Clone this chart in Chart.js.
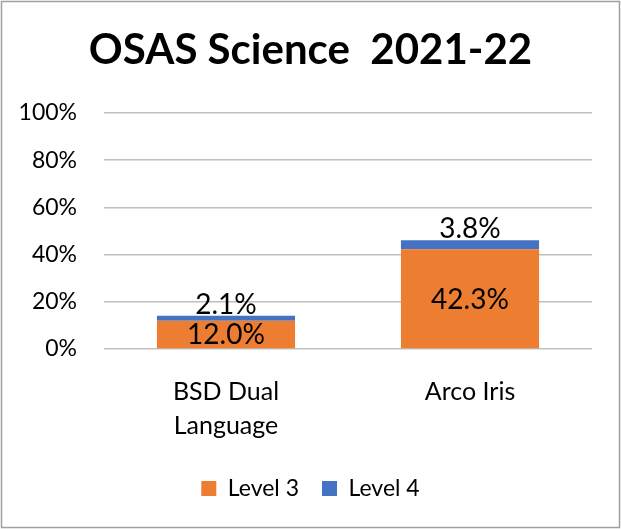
<!DOCTYPE html>
<html>
<head>
<meta charset="utf-8">
<script src="https://cdn.jsdelivr.net/npm/chart.js@4.4.0/dist/chart.umd.min.js"></script>
<style>
  html, body { margin: 0; padding: 0; background: #fff; }
  #wrap { width: 621px; height: 529px; }
</style>
</head>
<body>
<div id="wrap"><canvas id="chart" width="621" height="529"></canvas></div>
<script>
// values (percent of students)
var schools = [["BSD Dual", "Language"], "Arco Iris"];
var level3 = [12.0, 42.3];
var level4 = [2.1, 3.8];
var yTicks = [0, 20, 40, 60, 80, 100];

Chart.defaults.font.family = "Lato";
Chart.defaults.color = "#000";

// white background and grey frame like the original export
var framePlugin = {
  id: "frame",
  beforeDraw: function (chart) {
    var c = chart.ctx;
    c.save();
    c.fillStyle = "#fff";
    c.fillRect(0, 0, chart.width, chart.height);
    c.strokeStyle = "#a0a0a0";
    c.lineWidth = 1.5;
    c.strokeRect(1.5, 1.5, chart.width - 3, chart.height - 3);
    c.restore();
  }
};

// value labels: level 3 inside the bar, level 4 on top of the stack
var valueLabels = {
  id: "valueLabels",
  afterDatasetsDraw: function (chart) {
    var c = chart.ctx;
    c.save();
    c.font = "28px Lato";
    c.fillStyle = "#000";
    c.textAlign = "center";
    chart.data.datasets.forEach(function (ds, i) {
      var meta = chart.getDatasetMeta(i);
      meta.data.forEach(function (bar, j) {
        var txt = ds.data[j].toFixed(1) + "%";
        if (i === 0) {
          c.textBaseline = "middle";
          c.fillText(txt, bar.x, (bar.y + bar.base) / 2 + 1);
        } else {
          c.textBaseline = "alphabetic";
          c.fillText(txt, bar.x, bar.y - 2);
        }
      });
    });
    c.restore();
  }
};

var ctx = document.getElementById("chart").getContext("2d");
var myChart = new Chart(ctx, {
  type: "bar",
  data: {
    labels: schools,
    datasets: [
      { label: "Level 3", data: level3, backgroundColor: "#ED7D31" },
      { label: "Level 4", data: level4, backgroundColor: "#4472C4" }
    ]
  },
  options: {
    responsive: false,
    animation: false,
    layout: { padding: { top: 0, left: 0, right: 0, bottom: 19 } },
    datasets: {
      bar: { categoryPercentage: 1, barPercentage: 0.566 }
    },
    scales: {
      x: {
        stacked: true,
        grid: { display: false, drawTicks: false },
        border: { display: false },
        ticks: { font: { size: 25, lineHeight: 1.36 }, padding: 26, maxRotation: 0 },
        afterFit: function (scale) {
          scale.height = 105;
          scale.paddingRight = 29;
        }
      },
      y: {
        stacked: true,
        min: 0,
        max: 100,
        border: { display: false },
        grid: { color: "#bfbfbf", lineWidth: 1.5, drawTicks: false },
        ticks: {
          stepSize: 20,
          padding: 27,
          font: { size: 23 },
          callback: function (v) { return yTicks.indexOf(v) >= 0 ? v + "%" : ""; }
        },
        afterFit: function (scale) { scale.width = 104; }
      }
    },
    plugins: {
      title: {
        display: true,
        text: "OSAS Science  2021-22",
        font: { size: 42, weight: "bold", lineHeight: 1.2 },
        color: "#000",
        padding: { top: 25, bottom: 37.6 }
      },
      legend: {
        position: "bottom",
        labels: { boxWidth: 15, boxHeight: 15, padding: 23, font: { size: 23 } }
      },
      tooltip: { enabled: false }
    }
  },
  plugins: [framePlugin, valueLabels]
});
</script>
</body>
</html>
